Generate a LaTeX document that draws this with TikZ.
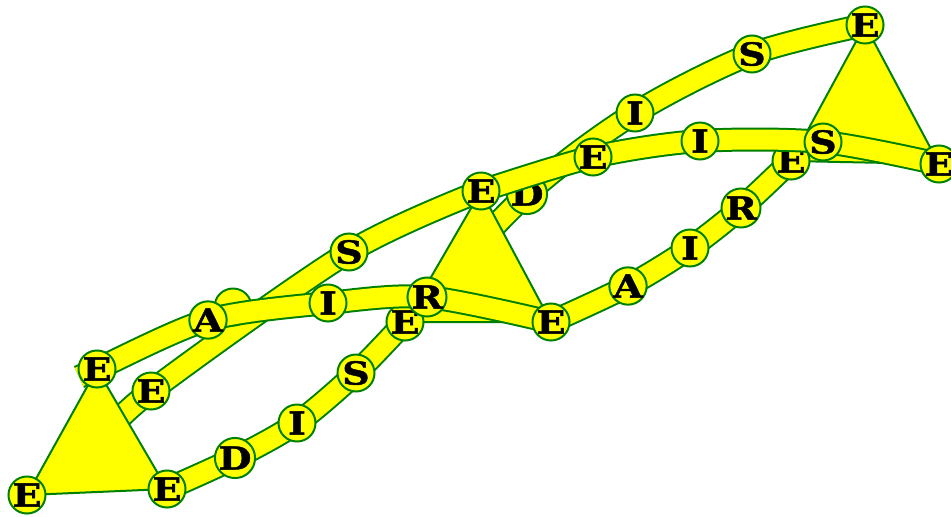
\documentclass[tikz,border=0pt]{standalone}
\usepackage{fontspec}
\newfontfamily\ballfont{DejaVu Serif}[FakeStretch=1.2, BoldFeatures={FakeBold=1.5}]
\usepackage{tikz}
\usepackage{xcolor}
\definecolor{rim}{RGB}{0,128,0}
\definecolor{fillyellow}{RGB}{255,255,0}
\pgfdeclarelayer{bandsA}
\pgfdeclarelayer{tris}
\pgfdeclarelayer{bandsB}
\pgfdeclarelayer{ballsB}
\pgfdeclarelayer{bandsC}
\pgfsetlayers{bandsA,tris,bandsB,ballsB,bandsC,main}

\begin{document}
\begin{tikzpicture}[
    ball/.style={circle, draw=rim, fill=fillyellow, line width=0.04cm, minimum size=0.74cm, inner sep=0pt,
        font=\ballfont\bfseries\fontsize{18}{18}\selectfont},
    band/.style={draw=rim, line width=0.04cm, double=fillyellow, double distance=0.40cm},
    tri/.style={draw=rim, fill=fillyellow, line width=0.04cm}
]
    \useasboundingbox (0,0) rectangle (19.02,10.32);

    % Letter balls on top of everything
    \foreach \nm/\x/\y/\txt in {e1/1.94/2.94/E, e2/0.54/0.42/E, e3/3.34/0.54/E, e4/3.02/2.50/E,
        a1/4.16/3.92/A, s1/6.98/5.28/S, i1/6.56/4.26/I, r1/8.54/4.38/R,
        e6/9.62/6.50/E, e7/11.02/3.88/E, d1/4.70/1.16/D, i2/5.94/1.86/I, s2/7.12/2.86/S,
        e8/11.86/7.18/E, i3/12.70/8.06/I, s3/15.04/9.24/S, e9/17.30/9.82/E,
        i4/14.00/7.50/I, s4/16.46/7.48/S, e11/18.78/7.04/E,
        a2/12.56/4.60/A, i5/13.80/5.36/I, r2/14.82/6.16/R}
        \node[ball] (\nm) at (\x,\y) {\txt};

    % Balls that the front bands run over
    \begin{pgfonlayer}{ballsB}
        \node[ball] (e5) at (8.10,3.88) {E};
        \node[ball] (e10) at (15.82,7.10) {E};
    \end{pgfonlayer}

    % Triangles, and the balls just above the back bands
    \begin{pgfonlayer}{tris}
        \node[ball] (h1) at (4.66,4.18) {};
        \node[ball] (d2) at (10.54,6.44) {D};
        \filldraw[tri] (e1.center) -- (e2.center) -- (e3.center) -- cycle;
        \filldraw[tri] (e6.center) -- (e5.center) -- (e7.center) -- cycle;
        \filldraw[tri] (e9.center) -- (e10.center) -- (e11.center) -- cycle;
    \end{pgfonlayer}

    % Back bands (under the triangles)
    \coordinate (btail) at (1.90,1.42);
    \begin{pgfonlayer}{bandsA}
        \draw[band] plot[smooth] coordinates {(btail) (e4.center) (s1.center) (e6.center)};
        \draw[band] plot[smooth] coordinates {(e5.center) (d2.center) (i3.center) (s3.center) (e9.center)};
    \end{pgfonlayer}

    % Middle bands
    \begin{pgfonlayer}{bandsB}
        \draw[band] plot[smooth] coordinates {(e3.center) (d1.center) (i2.center) (s2.center) (e5.center)};
        \draw[band] plot[smooth] coordinates {(e7.center) (a2.center) (i5.center) (r2.center) (e10.center)};
    \end{pgfonlayer}

    % Front bands
    \coordinate (atail) at (1.58,2.78);
    \begin{pgfonlayer}{bandsC}
        \draw[band] plot[smooth] coordinates {(atail) (e1.center) (a1.center) (i1.center) (r1.center) (e7.center)};
        \draw[band] plot[smooth] coordinates {(e6.center) (e8.center) (i4.center) (s4.center) (e11.center)};
    \end{pgfonlayer}
\end{tikzpicture}
\end{document}
